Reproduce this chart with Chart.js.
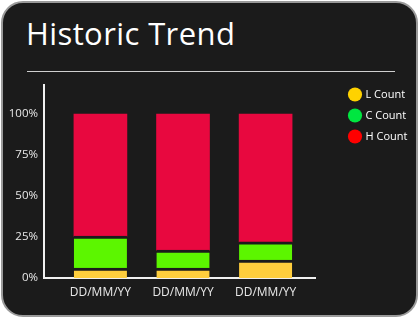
<!DOCTYPE html>
<html><head><meta charset="utf-8">
<script src="https://cdn.jsdelivr.net/npm/chart.js@4"></script>
<style>
html,body{margin:0;padding:0;background:#fff;width:420px;height:318px;overflow:hidden;font-family:'Open Sans',sans-serif;}
#card{position:absolute;left:1px;top:1px;width:413px;height:312px;background:#1b1b1b;border:2px solid #9a9a9a;border-radius:22px;}
#title{position:absolute;left:26px;top:13px;color:#fff;font-size:31px;font-weight:500;letter-spacing:0.4px;line-height:40px;white-space:nowrap;}
#rule{position:absolute;left:27px;top:71px;width:368px;height:1px;background:#cfcfcf;}
#wrap{position:absolute;left:0;top:69px;width:420px;height:249px;}
</style></head>
<body>
<div id="card"></div>
<div id="title">Historic Trend</div>
<div id="rule"></div>
<div id="wrap"><canvas id="c" width="420" height="249"></canvas></div>
<script>
const categories = ['DD/MM/YY', 'DD/MM/YY', 'DD/MM/YY'];
const lCount = [6, 6, 11];
const cCount = [19.5, 11, 11];
const hCount = [74.5, 83, 78];
const yTicks = [0, 25, 50, 75, 100];
const seriesNames = ['L Count', 'C Count', 'H Count'];
const barColors = ['#FFCE3D', '#5CF600', '#E8083F'];
const legendColors = ['#FFD200', '#00E640', '#FF0000'];

const toXY = arr => arr.map((v, i) => ({x: i, y: v}));

new Chart(document.getElementById('c'), {
  type: 'bar',
  data: {
    datasets: [
      {label: seriesNames[0], data: toXY(lCount), backgroundColor: barColors[0], borderColor: '#1b1b1b', borderWidth: {top: 3, left: 0, right: 0, bottom: 0}, borderSkipped: false},
      {label: seriesNames[1], data: toXY(cCount), backgroundColor: barColors[1], borderColor: '#1b1b1b', borderWidth: {top: 3, left: 0, right: 0, bottom: 0}, borderSkipped: false},
      {label: seriesNames[2], data: toXY(hCount), backgroundColor: barColors[2], borderWidth: 0}
    ]
  },
  options: {
    responsive: false,
    animation: false,
    barThickness: 53,
    layout: {padding: {top: 10, right: 12, bottom: 0, left: 0}},
    plugins: {
      tooltip: {enabled: false},
      legend: {
        position: 'right',
        align: 'start',
        labels: {
          usePointStyle: true,
          boxWidth: 10,
          boxHeight: 10,
          padding: 10,
          color: '#fff',
          font: {family: "'Open Sans', sans-serif", size: 11},
          generateLabels: chart => seriesNames.map((n, i) => ({
            text: n, fillStyle: legendColors[i], strokeStyle: legendColors[i], lineWidth: 0,
            pointStyle: 'circle', fontColor: '#fff', datasetIndex: i, hidden: false
          }))
        }
      }
    },
    scales: {
      x: {
        type: 'linear', stacked: true, min: -0.683, max: 2.598, offset: false,
        grid: {display: false, drawTicks: false},
        border: {display: true, color: '#f0f0f0', width: 2},
        ticks: {color: '#e8e8e8', font: {family: "'Open Sans', sans-serif", size: 12}, padding: 7, autoSkip: false, maxRotation: 0,
                callback: v => categories[v] !== undefined ? categories[v] : ''},
        afterBuildTicks: s => { s.ticks = categories.map((c, i) => ({value: i})); },
        afterFit: s => { s.height = 40; }
      },
      x2: {
        type: 'linear', position: 'top', display: true,
        grid: {display: false, drawTicks: false}, border: {display: false},
        ticks: {display: false},
        afterFit: s => { s.height = 6; }
      },
      y: {
        stacked: true, min: 0, max: 117.7,
        grid: {display: false, drawTicks: false},
        border: {display: true, color: '#f0f0f0', width: 2},
        ticks: {color: '#e8e8e8', font: {family: "'Open Sans', sans-serif", size: 11.5}, padding: 6, callback: v => v + '%'},
        afterBuildTicks: s => { s.ticks = yTicks.map(v => ({value: v})); },
        afterFit: s => { s.width = 44; }
      },
      y2: {
        type: 'linear', position: 'right', display: true,
        grid: {display: false, drawTicks: false}, border: {display: false},
        ticks: {display: false},
        afterFit: s => { s.width = 25; }
      }
    }
  }
});
</script>
</body></html>
